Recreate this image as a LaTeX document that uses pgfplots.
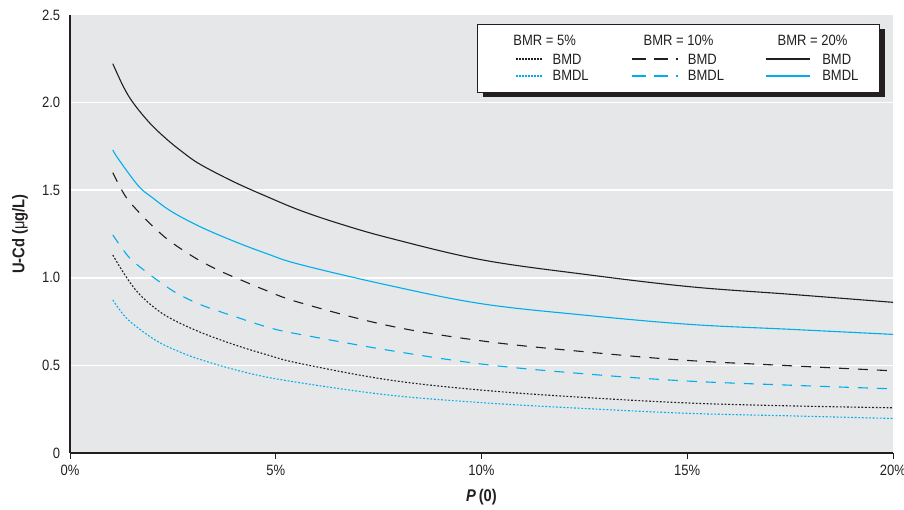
\documentclass[border=0pt]{standalone}
\usepackage{fontspec}
\setmainfont{Liberation Sans}[FakeStretch=0.87]
\usepackage{pgfplots}
\pgfplotsset{compat=1.18}
\definecolor{bgc}{HTML}{E6E7E8}
\definecolor{axc}{HTML}{231F20}
\definecolor{cy}{HTML}{00AEEF}
\newcommand{\sdot}[1]{{\color{#1}\raisebox{4.3bp}{\hbox to 27bp{\cleaders\hbox to 3bp{\hss\vrule width 1.6bp height 1.8bp depth 0bp\hss}\hfill}}}}
\newcommand{\sdash}[1]{{\color{#1}\raisebox{4.3bp}{\hbox{\vrule width 14bp height 1.8bp depth 0bp\hskip 8bp\vrule width 14bp height 1.8bp depth 0bp\hskip 8bp\vrule width 1.6bp height 1.8bp depth 0bp}}}}
\newcommand{\ssolid}[1]{{\color{#1}\raisebox{4.3bp}{\hbox{\vrule width 44bp height 1.8bp depth 0bp}}}}
\newcommand{\strutA}{\rule[-5bp]{0pt}{26.6bp}}
\newcommand{\strutB}{\rule[-5bp]{0pt}{18.3bp}}
\newcommand{\strutC}{\rule[-11.4bp]{0pt}{23.1bp}}
\begin{document}
\begin{tikzpicture}
\path[use as bounding box] (0,0) rectangle (904bp,510bp);
\begin{axis}[
  at={(70bp,57bp)}, anchor=south west,
  scale only axis, width=823bp, height=438bp,
  xmin=0, xmax=20, ymin=0, ymax=2.5,
  axis background/.style={fill=bgc},
  axis x line*=bottom, axis y line*=left,
  axis line style={draw=axc, line width=1.5bp},
  xtick={0,5,10,15,20}, xticklabels={0\%,5\%,10\%,15\%,20\%},
  ytick={0.5,1,1.5,2}, yticklabels={0.5,1.0,1.5,2.0},
  extra y ticks={0,2.5}, extra y tick labels={0,2.5},
  extra y tick style={grid=none},
  ymajorgrids, major grid style={white, line width=1.5bp},
  tick align=outside, major tick length=6bp,
  x tick style={draw=axc, line width=1bp},
  y tick style={draw=none},
  /pgf/number format/assume math mode=true,
  tick label style={font=\fontsize{15}{18}\selectfont, text=axc},
  xticklabel style={yshift=-2bp},
  xlabel={\textit{P}\,(0)},
  ylabel={U-Cd (\textmd{μ}g/L)},
  every axis x label/.style={at={(axis description cs:0.5,0)}, yshift=-44bp, anchor=center,
     font=\fontsize{17}{20}\selectfont\bfseries, text=axc},
  every axis y label/.style={at={(axis description cs:0,0.5)}, xshift=-50bp, rotate=90, anchor=center,
     font=\fontsize{17}{20}\selectfont\bfseries, text=axc},
  legend columns=3, legend cell align=left,
  legend image code/.code={},
  legend style={at={(0.9842,0.97945)}, anchor=north east, draw=axc, line width=0.8bp, fill=white,
    font=\fontsize{15}{18}\selectfont, text=axc,
    inner sep=0pt, nodes={inner sep=0pt, text depth=, text height=},
    row sep=0pt, column sep=0pt,
    /tikz/every even column/.style={column sep=0pt},
    /tikz/every odd column/.style={column sep=0pt}},
  line width=1.1bp,
]
% legend shadow
\fill[axc] (rel axis cs:0.50182,0.81279) rectangle (rel axis cs:0.99028,0.96804);

\addlegendimage{empty legend}
\addlegendentry{\makebox[154.7bp][l]{\strutA\hspace*{67bp}\makebox[0pt]{BMR = 5\%}}}
\addlegendimage{empty legend}
\addlegendentry{\makebox[133.3bp][l]{\strutA\hspace*{46.3bp}\makebox[0pt]{BMR = 10\%}}}
\addlegendimage{empty legend}
\addlegendentry{\makebox[114bp][l]{\strutA\hspace*{47bp}\makebox[0pt]{BMR = 20\%}}}

% BMD, BMR = 5%
\addplot[axc, line width=1.1bp, dash pattern=on 1.8bp off 1.8bp, smooth, tension=0.6]
coordinates {(1.04,1.130)(1.34,1.014)(1.66,0.913)(2.07,0.826)(2.47,0.765)(3.16,0.690)(3.97,0.620)(4.78,0.561)(5.59,0.511)(7.78,0.416)(10.1,0.357)(12.5,0.317)(15.07,0.285)(17.5,0.269)(20,0.258)};
\addlegendentry{\makebox[154.7bp][l]{\strutB\hspace*{38bp}\sdot{axc}\hspace*{10bp}BMD}}
% BMD, BMR = 10%
\addplot[axc, line width=1.1bp, dash pattern=on 10bp off 9bp, smooth, tension=0.6]
coordinates {(1.04,1.600)(1.34,1.468)(1.66,1.378)(2.03,1.290)(2.39,1.216)(2.84,1.143)(3.24,1.087)(3.73,1.030)(4.21,0.982)(4.70,0.934)(5.59,0.858)(7.78,0.725)(10.1,0.637)(12.5,0.578)(14.9,0.530)(17.5,0.498)(20,0.469)};
\addlegendentry{\makebox[133.3bp][l]{\strutB\sdash{axc}\hspace*{10bp}BMD}}
% BMD, BMR = 20%
\addplot[axc, line width=1.1bp, smooth, tension=0.6]
coordinates {(1.04,2.222)(1.30,2.090)(1.54,1.997)(1.94,1.883)(2.35,1.791)(2.75,1.715)(3.16,1.648)(3.97,1.549)(4.78,1.464)(5.59,1.385)(6.56,1.308)(7.78,1.226)(10.0,1.103)(12.5,1.020)(15.07,0.949)(17.5,0.906)(20,0.860)};
\addlegendentry{\makebox[114bp][l]{\strutB\ssolid{axc}\hspace*{12.7bp}BMD}}
% BMDL, BMR = 5%
\addplot[cy, line width=1.1bp, dash pattern=on 1.8bp off 1.8bp, smooth, tension=0.6]
coordinates {(1.04,0.873)(1.34,0.778)(1.66,0.713)(2.07,0.645)(2.47,0.597)(3.16,0.534)(4.37,0.454)(5.59,0.401)(7.78,0.330)(10.1,0.286)(12.5,0.254)(15.07,0.226)(17.5,0.212)(20,0.197)};
\addlegendentry{\makebox[154.7bp][l]{\strutC\hspace*{38bp}\sdot{cy}\hspace*{10bp}BMDL}}
% BMDL, BMR = 10%
\addplot[cy, line width=1.1bp, dash pattern=on 10bp off 9bp, smooth, tension=0.6]
coordinates {(1.04,1.245)(1.42,1.121)(1.78,1.047)(2.19,0.975)(2.63,0.907)(3.12,0.852)(3.48,0.820)(4.09,0.772)(4.50,0.740)(4.99,0.706)(5.59,0.677)(7.78,0.585)(10.1,0.505)(12.5,0.452)(14.9,0.412)(17.5,0.387)(20,0.366)};
\addlegendentry{\makebox[133.3bp][l]{\strutC\sdash{cy}\hspace*{10bp}BMDL}}
% BMDL, BMR = 20%
\addplot[cy, line width=1.1bp, smooth, tension=0.6]
coordinates {(1.04,1.730)(1.17,1.680)(1.66,1.525)(2.0,1.458)(2.47,1.378)(3.16,1.292)(3.97,1.210)(4.78,1.138)(5.59,1.076)(7.78,0.955)(10.0,0.852)(12.5,0.787)(15.07,0.734)(17.5,0.706)(20,0.677)};
\addlegendentry{\makebox[114bp][l]{\strutC\ssolid{cy}\hspace*{12.7bp}BMDL}}
\end{axis}
\end{tikzpicture}
\end{document}
